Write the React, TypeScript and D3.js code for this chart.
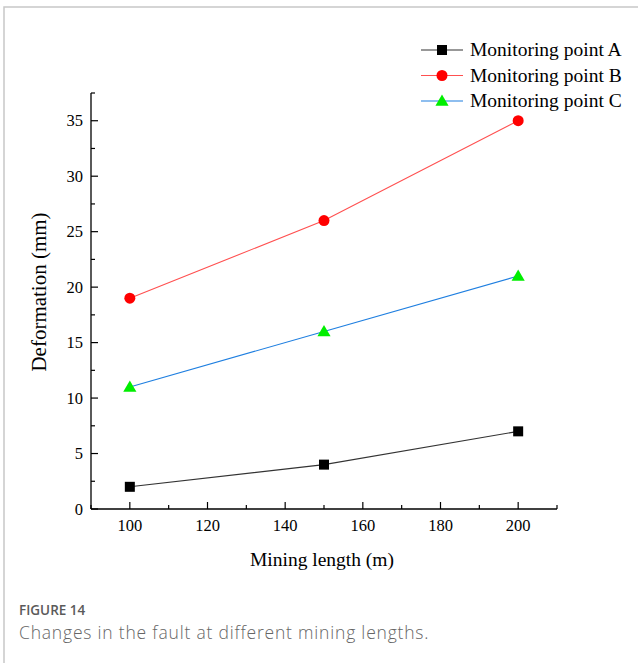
import React from "react";
import * as d3 from "d3";

const miningLengths = [100, 150, 200];
const pointA = [2, 4, 7];
const pointB = [19, 26, 35];
const pointC = [11, 16, 21];
const seriesNames = ["Monitoring point A", "Monitoring point B", "Monitoring point C"];
const xTicks = [100, 120, 140, 160, 180, 200];
const yTicks = [0, 5, 10, 15, 20, 25, 30, 35];

const W = 638, H = 663;
const left = 91, right = 557, top = 93, bottom = 509;

export default function App() {
  const x = d3.scaleLinear().domain([90, 210]).range([left, right]);
  const y = d3.scaleLinear().domain([0, 37.5]).range([bottom, top]);
  const line = d3.line<[number, number]>().x(d => x(d[0])).y(d => y(d[1])).curve(d3.curveLinear);
  const series = [
    { name: seriesNames[0], vals: pointA, stroke: "#333333", fill: "#000000", shape: "square" },
    { name: seriesNames[1], vals: pointB, stroke: "#ff5050", fill: "#ff0000", shape: "circle" },
    { name: seriesNames[2], vals: pointC, stroke: "#1f7fe0", fill: "#00ee00", shape: "triangle" },
  ];
  const marker = (shape: string, cx: number, cy: number, fill: string, key?: any) => {
    if (shape === "square") return <rect key={key} x={cx - 5} y={cy - 5} width={10} height={10} fill={fill} />;
    if (shape === "circle") return <circle key={key} cx={cx} cy={cy} r={5.5} fill={fill} />;
    const sym = d3.symbol(d3.symbolTriangle, 75)();
    return <path key={key} d={sym || ""} transform={`translate(${cx},${cy + 1})`} fill={fill} />;
  };
  const xMinor = d3.range(90, 211, 10);
  const yMinor = d3.range(0, 37.6, 2.5);
  const serif = "'Liberation Serif', 'Times New Roman', serif";
  const sans = "'Open Sans', 'Noto Sans', sans-serif";
  return (
    <svg width={W} height={H} style={{ position: "absolute", left: 0, top: 0, background: "#fff" }}>
      <rect x={4} y={7} width={W + 10} height={H + 10} fill="none" stroke="#c8c8c8" strokeWidth={1.5} />
      {/* axes */}
      <line x1={left} x2={right} y1={bottom} y2={bottom} stroke="#000" strokeWidth={1.3} />
      <line x1={left} x2={left} y1={top} y2={bottom} stroke="#000" strokeWidth={1.3} />
      {xMinor.map(v => (
        <line key={"xm" + v} x1={x(v)} x2={x(v)} y1={bottom} y2={bottom - (v % 20 === 0 ? 7 : 4)} stroke="#000" strokeWidth={1.2} />
      ))}
      {yMinor.map(v => (
        <line key={"ym" + v} x1={left} x2={left + (v % 5 === 0 ? 7 : 4)} y1={y(v)} y2={y(v)} stroke="#000" strokeWidth={1.2} />
      ))}
      {xTicks.map(v => (
        <text key={"xt" + v} x={x(v)} y={bottom + 22} textAnchor="middle" fontFamily={serif} fontSize={16.5}>{v}</text>
      ))}
      {yTicks.map(v => (
        <text key={"yt" + v} x={left - 8} y={y(v) + 5.5} textAnchor="end" fontFamily={serif} fontSize={16.5}>{v}</text>
      ))}
      <text x={(left + right) / 2 - 2} y={566} textAnchor="middle" fontFamily={serif} fontSize={19.5}>Mining length (m)</text>
      <text transform={`translate(46,${(top + bottom) / 2 - 9}) rotate(-90)`} textAnchor="middle" fontFamily={serif} fontSize={21}>Deformation (mm)</text>
      {/* series */}
      {series.map((s, i) => (
        <g key={"s" + i}>
          <path d={line(miningLengths.map((m, j) => [m, s.vals[j]]) as [number, number][]) || ""} fill="none" stroke={s.stroke} strokeWidth={1.1} />
          {miningLengths.map((m, j) => marker(s.shape, x(m), y(s.vals[j]), s.fill, j))}
        </g>
      ))}
      {/* legend */}
      {series.map((s, i) => {
        const ly = 50 + i * 25.5;
        return (
          <g key={"l" + i}>
            <line x1={421} x2={463} y1={ly} y2={ly} stroke={s.stroke} strokeWidth={1.2} />
            {marker(s.shape, 442, ly, s.fill)}
            <text x={470} y={ly + 6} fontFamily={serif} fontSize={19.5}>{s.name}</text>
          </g>
        );
      })}
      {/* caption */}
      <text x={19} y={615} fontFamily={sans} fontSize={13.5} fontWeight={600} fill="#5a5a5a">FIGURE 14</text>
      <text x={19} y={639} fontFamily={sans} fontSize={17.5} fontWeight={300} fill="#666" letterSpacing={0.8}>Changes in the fault at different mining lengths.</text>
    </svg>
  );
}
